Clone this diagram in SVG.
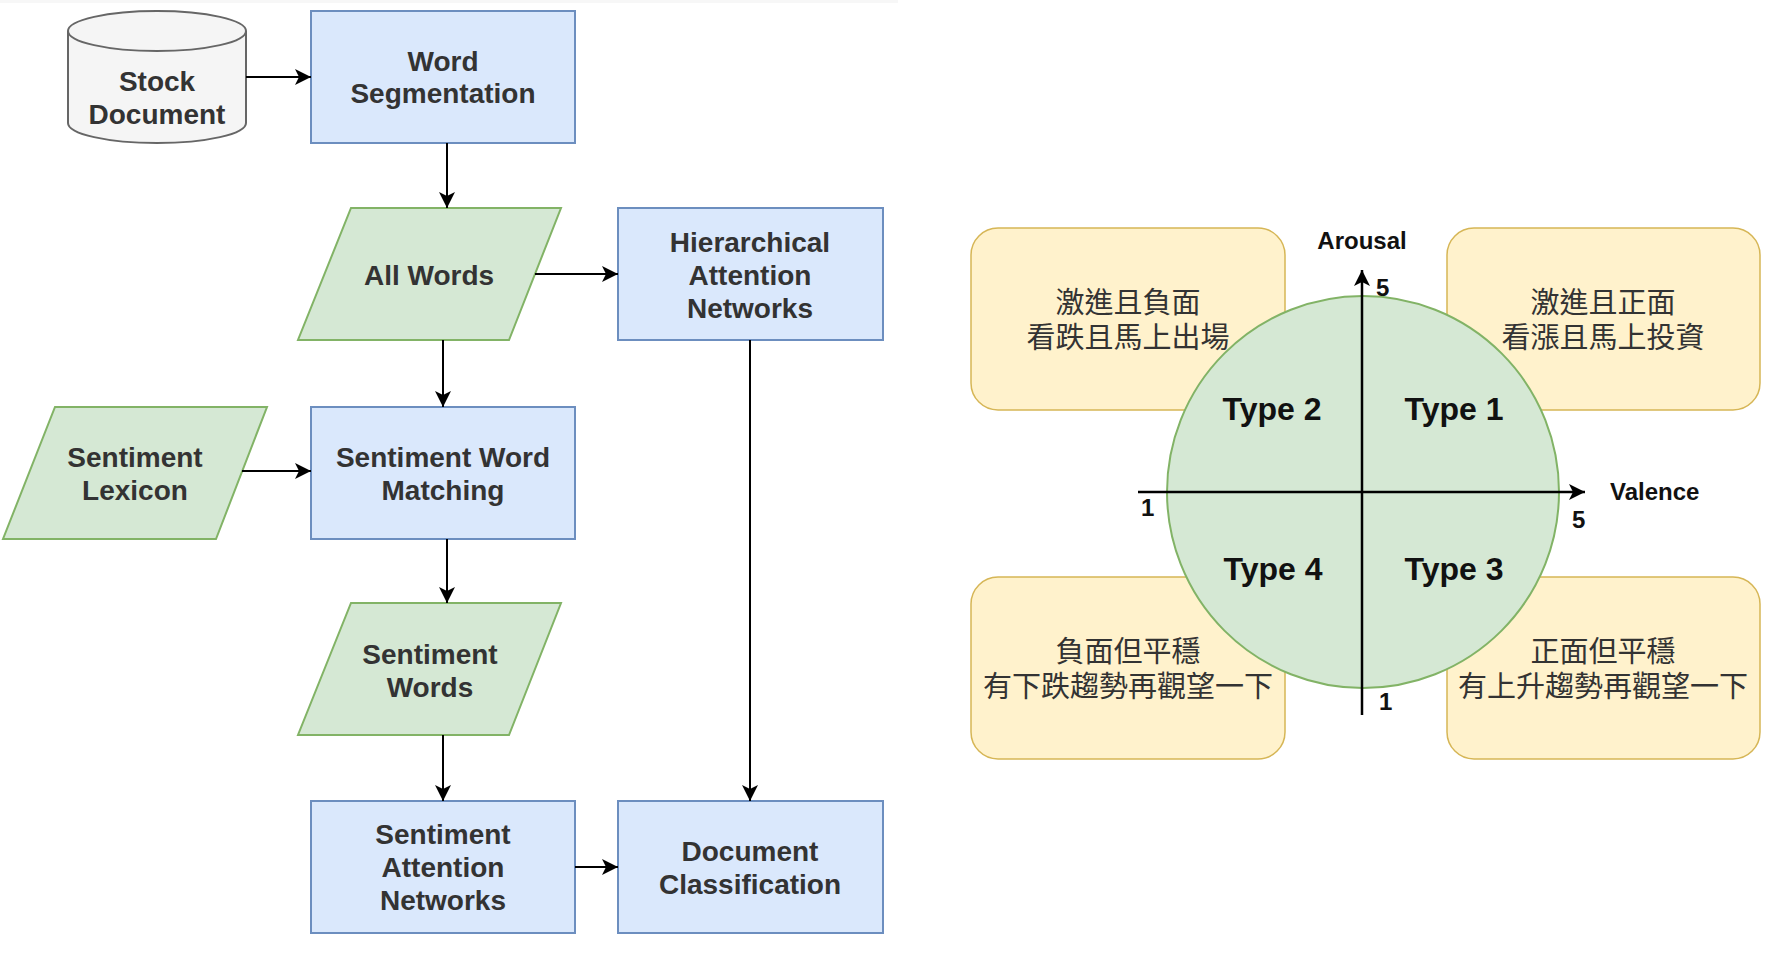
<svg xmlns="http://www.w3.org/2000/svg" width="1771" height="957" viewBox="0 0 1771 957">
<style>
.blue{fill:#dae8fc;stroke:#6c8ebf;stroke-width:2}
.green{fill:#d5e8d4;stroke:#82b366;stroke-width:2}
.gray{fill:#f5f5f5;stroke:#666666;stroke-width:2}
.yellow{fill:#fff2cc;stroke:#d6b656;stroke-width:1.5}
.lbl{font-family:"Liberation Sans",Arial,sans-serif;font-size:28px;font-weight:bold;fill:#333333;text-anchor:middle}
.conn{fill:none;stroke:#000000;stroke-width:2}
.axis{fill:none;stroke:#000000;stroke-width:2.5}
.ax{font-family:"Liberation Sans",Arial,sans-serif;font-size:24px;font-weight:bold;fill:#111111}
.num{font-family:"Liberation Sans",Arial,sans-serif;font-size:24px;font-weight:bold;fill:#111111}
.type{font-family:"Liberation Sans",Arial,sans-serif;font-size:32px;font-weight:bold;fill:#111111;text-anchor:middle}
.cjk{font-family:"Liberation Serif","Noto Sans CJK TC",serif;font-size:29px;fill:#333333;text-anchor:middle}
</style>
<defs>
<marker id="arr" viewBox="0 0 16 16" refX="16" refY="8" markerWidth="16" markerHeight="16" markerUnits="userSpaceOnUse" orient="auto">
<path d="M0,0 L16,8 L0,16 L4,8 Z" fill="#000000"/>
</marker>
</defs>
<rect x="0" y="0" width="898" height="3" fill="#f7f7f7"/>

<g id="stock-document">
<path class="gray" d="M68,31 A89,20 0 0 1 246,31 L246,123 A89,20 0 0 1 68,123 Z"/>
<path class="gray" fill="none" d="M68,31 A89,20 0 0 0 246,31"/>
<text class="lbl" x="157" y="91">Stock</text>
<text class="lbl" x="157" y="124">Document</text>
</g>
<g id="word-segmentation">
<rect class="blue" x="311" y="11" width="264" height="132"/>
<text class="lbl" x="443" y="71">Word</text>
<text class="lbl" x="443" y="103">Segmentation</text>
</g>
<g id="all-words">
<polygon class="green" points="351,208 561,208 509,340 298,340"/>
<text class="lbl" x="429" y="285">All Words</text>
</g>
<g id="han">
<rect class="blue" x="618" y="208" width="265" height="132"/>
<text class="lbl" x="750" y="252">Hierarchical</text>
<text class="lbl" x="750" y="285">Attention</text>
<text class="lbl" x="750" y="318">Networks</text>
</g>
<g id="sentiment-lexicon">
<polygon class="green" points="55,407 267,407 216,539 3,539"/>
<text class="lbl" x="135" y="467">Sentiment</text>
<text class="lbl" x="135" y="500">Lexicon</text>
</g>
<g id="sentiment-word-matching">
<rect class="blue" x="311" y="407" width="264" height="132"/>
<text class="lbl" x="443" y="467">Sentiment Word</text>
<text class="lbl" x="443" y="500">Matching</text>
</g>
<g id="sentiment-words">
<polygon class="green" points="351,603 561,603 509,735 298,735"/>
<text class="lbl" x="430" y="664">Sentiment</text>
<text class="lbl" x="430" y="697">Words</text>
</g>
<g id="san">
<rect class="blue" x="311" y="801" width="264" height="132"/>
<text class="lbl" x="443" y="844">Sentiment</text>
<text class="lbl" x="443" y="877">Attention</text>
<text class="lbl" x="443" y="910">Networks</text>
</g>
<g id="document-classification">
<rect class="blue" x="618" y="801" width="265" height="132"/>
<text class="lbl" x="750" y="861">Document</text>
<text class="lbl" x="750" y="894">Classification</text>
</g>

<g id="connectors">
<line class="conn" x1="246" y1="77" x2="311" y2="77" marker-end="url(#arr)"/>
<line class="conn" x1="447" y1="143" x2="447" y2="208" marker-end="url(#arr)"/>
<line class="conn" x1="535" y1="274" x2="618" y2="274" marker-end="url(#arr)"/>
<line class="conn" x1="443" y1="340" x2="443" y2="407" marker-end="url(#arr)"/>
<line class="conn" x1="242" y1="471" x2="311" y2="471" marker-end="url(#arr)"/>
<line class="conn" x1="447" y1="539" x2="447" y2="603" marker-end="url(#arr)"/>
<line class="conn" x1="443" y1="735" x2="443" y2="801" marker-end="url(#arr)"/>
<line class="conn" x1="575" y1="867" x2="618" y2="867" marker-end="url(#arr)"/>
<line class="conn" x1="750" y1="340" x2="750" y2="801" marker-end="url(#arr)"/>
</g>

<g id="quadrant-boxes">
<rect class="yellow" x="971" y="228" width="314" height="182" rx="27"/>
<rect class="yellow" x="1447" y="228" width="313" height="182" rx="27"/>
<rect class="yellow" x="971" y="577" width="314" height="182" rx="27"/>
<rect class="yellow" x="1447" y="577" width="313" height="182" rx="27"/>
</g>
<g id="circle">
<circle class="green" cx="1363" cy="492" r="196" stroke-width="1.5"/>
</g>
<g id="axes">
<line class="axis" x1="1138" y1="492" x2="1585" y2="492" marker-end="url(#arr)"/>
<line class="axis" x1="1362" y1="715" x2="1362" y2="270" marker-end="url(#arr)"/>
<text class="ax" x="1362" y="249" text-anchor="middle">Arousal</text>
<text class="ax" x="1610" y="500">Valence</text>
<text class="num" x="1376" y="296">5</text>
<text class="num" x="1572" y="528">5</text>
<text class="num" x="1141" y="516">1</text>
<text class="num" x="1379" y="710">1</text>
</g>
<g id="types">
<text class="type" x="1272" y="420">Type 2</text>
<text class="type" x="1454" y="420">Type 1</text>
<text class="type" x="1273" y="580">Type 4</text>
<text class="type" x="1454" y="580">Type 3</text>
</g>
<g id="quadrant-texts">
<text class="cjk" x="1128" y="313">激進且負面</text>
<text class="cjk" x="1128" y="348">看跌且馬上出場</text>
<text class="cjk" x="1603" y="313">激進且正面</text>
<text class="cjk" x="1603" y="348">看漲且馬上投資</text>
<text class="cjk" x="1128" y="662">負面但平穩</text>
<text class="cjk" x="1128" y="697">有下跌趨勢再觀望一下</text>
<text class="cjk" x="1603" y="662">正面但平穩</text>
<text class="cjk" x="1603" y="697">有上升趨勢再觀望一下</text>
</g>
</svg>
